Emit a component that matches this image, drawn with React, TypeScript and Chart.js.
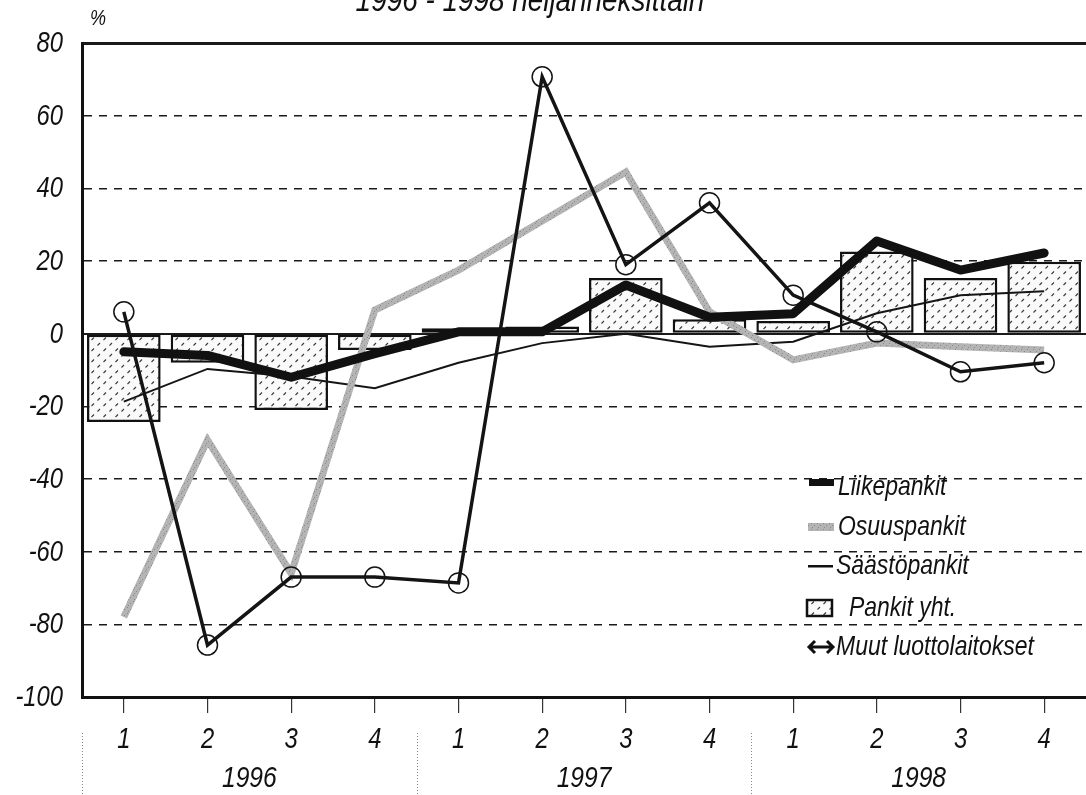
import React, { useEffect, useRef } from "react";
import { Chart, registerables } from "chart.js";

Chart.register(...registerables);

const quarters = ["1", "2", "3", "4", "1", "2", "3", "4", "1", "2", "3", "4"];
const years = ["1996", "1997", "1998"];
const titleText = "1996 - 1998 neljänneksittäin";
const unitText = "%";

const liikepankit = [-5, -6, -12, -5.5, 0.5, 0.5, 13.4, 4.5, 5.5, 25.5, 17.5, 22.2];
const osuuspankit = [-78, -29.3, -66, 6.5, 17.5, 31, 44.5, 6, -7.2, -2.6, -3.6, -4.5];
const saastopankit = [-18.7, -9.7, -11.8, -15, -8, -2.6, 0, -3.6, -2.2, 5.6, 10.6, 11.7];
const pankitYht = [-24.3, -8, -21, -4.5, 1.5, 2, 15.3, 4, 3.5, 22.6, 15.3, 19.8];
const muutLuotto = [6, -85.7, -67, -67, -68.6, 70.7, 19, 36, 10.6, 0.5, -10.5, -8];

const yMin = -100;
const yMax = 80;
const yStep = 20;

const FONT = "'Liberation Sans', Arial, sans-serif";
const NARROW = 0.82;

function makeDotPattern(ctx: CanvasRenderingContext2D): CanvasPattern | string {
  const c = document.createElement("canvas");
  c.width = 12;
  c.height = 11;
  const g = c.getContext("2d");
  if (!g) return "#f4f4f4";
  g.fillStyle = "#fafafa";
  g.fillRect(0, 0, 12, 11);
  g.strokeStyle = "#3a3a3a";
  g.lineWidth = 1.1;
  g.beginPath();
  g.moveTo(1.5, 4.5);
  g.lineTo(4, 2);
  g.moveTo(7.5, 10);
  g.lineTo(10, 7.5);
  g.stroke();
  const p = ctx.createPattern(c, "repeat");
  return p || "#f4f4f4";
}

function makeGreyPattern(ctx: CanvasRenderingContext2D): CanvasPattern | string {
  const c = document.createElement("canvas");
  c.width = 6;
  c.height = 6;
  const g = c.getContext("2d");
  if (!g) return "#aaa";
  g.fillStyle = "#b4b4b4";
  g.fillRect(0, 0, 6, 6);
  g.fillStyle = "#8a8a8a";
  g.fillRect(1, 1, 1, 1);
  g.fillRect(4, 3, 1, 1);
  g.fillRect(2, 5, 1, 1);
  const p = ctx.createPattern(c, "repeat");
  return p || "#aaa";
}

function narrowText(
  ctx: CanvasRenderingContext2D,
  text: string,
  x: number,
  y: number,
  size: number,
  align: CanvasTextAlign
) {
  ctx.save();
  ctx.translate(x, y);
  ctx.scale(NARROW, 1);
  ctx.font = `italic ${size}px ${FONT}`;
  ctx.textAlign = align;
  ctx.textBaseline = "middle";
  ctx.fillStyle = "#111";
  ctx.fillText(text, 0, 0);
  ctx.restore();
}

export default function App() {
  const canvasRef = useRef<HTMLCanvasElement | null>(null);

  useEffect(() => {
    const canvas = canvasRef.current;
    if (!canvas) return;
    const ctx2d = canvas.getContext("2d") as CanvasRenderingContext2D;
    const dotPattern = makeDotPattern(ctx2d);
    const greyPattern = makeGreyPattern(ctx2d);

    const decorPlugin = {
      id: "decor",
      afterDraw(chart: any) {
        const ctx: CanvasRenderingContext2D = chart.ctx;
        const xs = chart.scales.x;
        const ys = chart.scales.y;
        const area = chart.chartArea;
        ctx.save();
        // title (partly above the page top, as in the scanned source)
        narrowText(ctx, titleText, 530, 2, 34, "center");
        // unit
        narrowText(ctx, unitText, 90, 19, 22, "left");

        // y tick labels
        ys.ticks.forEach((t: any) => {
          narrowText(ctx, String(t.value), area.left - 19, ys.getPixelForValue(t.value) + 1, 29, "right");
        });
        // x tick labels
        xs.ticks.forEach((t: any, i: number) => {
          narrowText(ctx, quarters[i], xs.getPixelForValue(i), 740, 29, "center");
        });

        // year groups
        const step = xs.getPixelForValue(1) - xs.getPixelForValue(0);
        years.forEach((y, i) => {
          const cx = (xs.getPixelForValue(i * 4 + 1) + xs.getPixelForValue(i * 4 + 2)) / 2;
          narrowText(ctx, y, cx, 779, 30, "center");
        });
        ctx.strokeStyle = "#888";
        ctx.lineWidth = 1;
        ctx.setLineDash([1, 2]);
        for (let i = 0; i < years.length; i++) {
          const sx = Math.round(xs.getPixelForValue(i * 4) - step / 2) + 0.5;
          ctx.beginPath();
          ctx.moveTo(sx, 733);
          ctx.lineTo(sx, 795);
          ctx.stroke();
        }
        ctx.setLineDash([]);

        // legend
        const lx = area.left + 726;
        const ds = chart.data.datasets;
        const byLabel = (l: string) => ds.find((d: any) => d.label === l);
        ctx.fillStyle = "#111";
        // Liikepankit
        ctx.fillRect(lx + 1, 479, 25, 7);
        narrowText(ctx, byLabel("Liikepankit").label, lx + 30, 487, 28, "left");
        // Osuuspankit
        ctx.fillStyle = greyPattern as any;
        ctx.fillRect(lx, 523, 26, 8);
        narrowText(ctx, byLabel("Osuuspankit").label, lx + 30, 527, 28, "left");
        // Säästöpankit
        ctx.fillStyle = "#111";
        ctx.fillRect(lx, 565, 25, 2.5);
        narrowText(ctx, byLabel("Säästöpankit").label, lx + 28, 566, 28, "left");
        // Pankit yht.
        ctx.fillStyle = dotPattern as any;
        ctx.fillRect(lx - 1, 600, 25, 16);
        ctx.strokeStyle = "#111";
        ctx.lineWidth = 2.5;
        ctx.strokeRect(lx - 1, 600, 25, 16);
        narrowText(ctx, byLabel("Pankit yht.").label, lx + 41, 608, 28, "left");
        // Muut luottolaitokset (double arrow)
        ctx.lineWidth = 3;
        ctx.beginPath();
        ctx.moveTo(lx + 2, 647);
        ctx.lineTo(lx + 24, 647);
        ctx.moveTo(lx + 7, 641);
        ctx.lineTo(lx + 1, 647);
        ctx.lineTo(lx + 7, 653);
        ctx.moveTo(lx + 19, 641);
        ctx.lineTo(lx + 25, 647);
        ctx.lineTo(lx + 19, 653);
        ctx.stroke();
        narrowText(ctx, byLabel("Muut luottolaitokset").label, lx + 28, 647, 28, "left");
        ctx.restore();
      },
    };

    const chart = new Chart(canvas, {
      type: "bar",
      data: {
        labels: quarters,
        datasets: [
          {
            type: "line",
            label: "Muut luottolaitokset",
            data: muutLuotto,
            borderColor: "#141414",
            borderWidth: 3.5,
            tension: 0,
            pointRadius: 10,
            pointBorderWidth: 1.5,
            pointBorderColor: "#141414",
            pointBackgroundColor: "rgba(0,0,0,0)",
            order: 1,
          } as any,
          {
            type: "line",
            label: "Liikepankit",
            data: liikepankit,
            borderColor: "#111",
            borderWidth: 9,
            borderCapStyle: "round",
            borderJoinStyle: "round",
            tension: 0,
            pointRadius: 0,
            order: 2,
          } as any,
          {
            type: "line",
            label: "Osuuspankit",
            data: osuuspankit,
            borderColor: greyPattern as any,
            borderWidth: 7,
            borderJoinStyle: "miter",
            tension: 0,
            pointRadius: 0,
            order: 3,
          } as any,
          {
            type: "line",
            label: "Säästöpankit",
            data: saastopankit,
            borderColor: "#151515",
            borderWidth: 2,
            tension: 0,
            pointRadius: 0,
            order: 4,
          } as any,
          {
            type: "bar",
            label: "Pankit yht.",
            data: pankitYht,
            backgroundColor: dotPattern as any,
            borderColor: "#111",
            borderWidth: 2.5,
            borderSkipped: false,
            barPercentage: 0.88,
            categoryPercentage: 1,
            order: 5,
          } as any,
        ],
      },
      options: {
        animation: false,
        responsive: false,
        devicePixelRatio: 1,
        layout: { autoPadding: false, padding: { top: 43, right: 0, bottom: 0, left: 0 } },
        plugins: {
          legend: { display: false },
          title: { display: false },
          tooltip: { enabled: false },
        },
        scales: {
          x: {
            offset: true,
            afterFit: (s: any) => {
              s.height = 98;
              s.paddingLeft = 0;
              s.paddingRight = 0;
            },
            grid: {
              offset: false,
              drawOnChartArea: false,
              drawTicks: true,
              tickLength: 16,
              color: "#333",
              lineWidth: 1.2,
            },
            border: { display: true, width: 3, color: "#111" },
            ticks: {
              color: "rgba(0,0,0,0)",
              padding: 6,
              maxRotation: 0,
              autoSkip: false,
              font: { family: FONT, size: 20, style: "italic" },
            },
          },
          y: {
            min: yMin,
            max: yMax,
            afterFit: (s: any) => {
              s.width = 82;
            },
            grid: {
              drawTicks: false,
              color: (c: any) => (c.tick && c.tick.value === yMin ? "rgba(0,0,0,0)" : "#1a1a1a"),
              lineWidth: (c: any) => {
                const v = c.tick ? c.tick.value : null;
                if (v === yMax) return 3;
                if (v === 0) return 2;
                return 1.4;
              },
            },
            border: {
              display: true,
              width: 3,
              color: "#111",
              dash: (c: any) => (c.tick && c.tick.value !== 0 && c.tick.value !== yMax ? [8, 7] : []),
            },
            ticks: {
              stepSize: yStep,
              padding: 19,
              color: "rgba(0,0,0,0)",
              font: { family: FONT, size: 20, style: "italic" },
            },
          },
        },
      },
      plugins: [decorPlugin],
    } as any);

    return () => {
      chart.destroy();
    };
  }, []);

  return (
    <div style={{ position: "absolute", left: 0, top: 0, width: 1086, height: 795, background: "#fff" }}>
      <canvas ref={canvasRef} width={1086} height={795} style={{ display: "block", width: 1086, height: 795 }} />
    </div>
  );
}
